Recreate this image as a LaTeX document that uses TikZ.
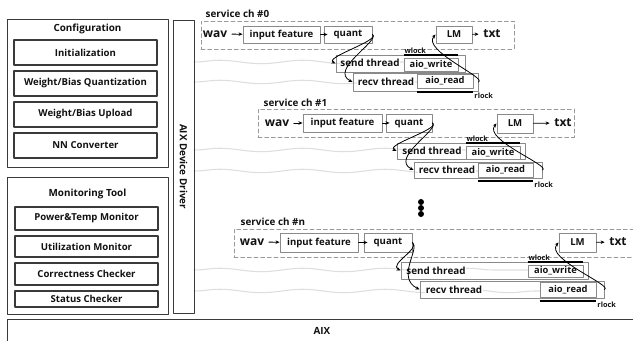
\documentclass[tikz,border=0pt]{standalone}
\usepackage{fontspec}
\setmainfont{Open Sans}
\usetikzlibrary{arrows.meta,positioning,decorations.pathmorphing}
\definecolor{frame}{HTML}{3A3A3A}
\definecolor{boxline}{HTML}{8A8A8A}
\definecolor{chline}{HTML}{9A9A9A}
\definecolor{wavegray}{HTML}{DEDEDE}
\definecolor{ink}{HTML}{111111}
\tikzset{
    every picture/.style={line cap=round,line join=round},
    sz/.style 2 args={minimum width=#1*0.75pt,minimum height=#2*0.75pt},
    groupbox/.style={draw=frame,line width=0.7pt,inner sep=0pt},
    cfgbox/.style={draw=frame,line width=0.9pt,inner sep=0pt,text=ink,
      font=\bfseries\fontsize{7.2}{9}\selectfont},
    stagebox/.style={draw=boxline,line width=0.7pt,inner sep=0pt,text=ink,
      font=\bfseries\fontsize{7.2}{9}\selectfont},
    threadbox/.style={draw=boxline,line width=0.7pt,inner sep=0pt},
    aiobox/.style={draw=boxline,line width=0.7pt,inner sep=0pt,text=ink,
      font=\bfseries\fontsize{7}{9}\selectfont},
    chbox/.style={draw=chline,line width=0.5pt,densely dashed,inner sep=0pt},
    title/.style={text=ink,font=\bfseries\fontsize{7.4}{9}\selectfont},
    iolbl/.style={text=ink,font=\bfseries\fontsize{9}{11}\selectfont},
    thrlbl/.style={fill=white,inner sep=0.5pt,text=ink,
      font=\bfseries\fontsize{7.4}{9}\selectfont},
    locklbl/.style={inner sep=0pt,text=ink,font=\bfseries\fontsize{5.5}{6}\selectfont},
    lockbar/.style={draw=black,line width=1.5pt,line cap=butt},
    flowarrow/.style={-{Stealth[length=3pt,width=2.6pt]},draw=black,line width=0.6pt},
    thrwave/.style={draw=wavegray,line width=0.8pt,decorate,
      decoration={snake,amplitude=1.3pt,segment length=62pt}},
    dot/.style={circle,fill=black,inner sep=0pt,minimum size=4.5pt}
}
\begin{document}
\begin{tikzpicture}[x=0.75pt,y=-0.75pt]
  \useasboundingbox (0,0) rectangle (633,341);

  % thread waves
  \draw[thrwave] (194,62) -- (404,62);
  \draw[thrwave] (194,82) -- (417,82);
  \draw[thrwave] (194,150) -- (466,150);
  \draw[thrwave] (194,171) -- (478,171);
  \draw[thrwave] (194,270) -- (528,270);
  \draw[thrwave] (194,291) -- (540,291);

  % configuration
  \node[groupbox,sz={161}{148}] (cfg) at (87.5,93) {};
  \node[title] (cfgt) at (87.5,29) {Configuration};
  \node[cfgbox,sz={143}{25}] (init) at (85.5,52.5) {Initialization};
  \node[cfgbox,sz={143}{25}] (wbq) at (85.5,83.5) {Weight/Bias Quantization};
  \node[cfgbox,sz={143}{25}] (wbu) at (85.5,114.5) {Weight/Bias Upload};
  \node[cfgbox,sz={143}{25}] (nnc) at (85.5,145.5) {NN Converter};

  % monitoring
  \node[groupbox,sz={161}{137}] (mon) at (87.5,245.5) {};
  \node[title] (mont) at (87.5,194) {Monitoring Tool};
  \node[cfgbox,sz={143}{23}] (pwr) at (86.5,218.5) {Power\&Temp Monitor};
  \node[cfgbox,sz={143}{21}] (utl) at (86.5,246.5) {Utilization Monitor};
  \node[cfgbox,sz={143}{22}] (cor) at (86.5,274) {Correctness Checker};
  \node[cfgbox,sz={143}{16}] (sts) at (86.5,299) {Status Checker};

  % driver and device
  \node[groupbox,sz={21}{293}] (drv) at (183.5,166.5) {};
  \node[title,rotate=-90] (drvt) at (drv.center) {AIX Device Driver};
  \node[groupbox,sz={653}{51}] (aix) at (333.5,344.5) {};
  \node[title] (aixt) at (322,331) {AIX};

  % service ch #0
  \node[title,anchor=west] (ch0t) at (201,14) {service ch \#0};
  \node[chbox,sz={313}{28}] (ch0) at (357.5,35) {};
  \node[iolbl] (wav0) at (215,34) {wav};
  \node[stagebox,sz={77}{17}] (inp0) at (281.5,34.5) {input feature};
  \node[stagebox,sz={48}{17}] (qnt0) at (348,34.5) {quant};
  \node[stagebox,sz={36}{17}] (lm0) at (454,34.5) {LM};
  \node[iolbl] (txt0) at (492,34) {txt};
  \node[threadbox,sz={129}{17}] (snd0) at (400.5,63.5) {};
  \node[thrlbl] (snd0t) at (370,63) {send thread};
  \node[aiobox,sz={54}{13}] (aiow0) at (431,64.5) {aio\_write};
  \node[threadbox,sz={125}{18}] (rcv0) at (415.5,82) {};
  \node[thrlbl] (rcv0t) at (386,82) {recv thread};
  \node[aiobox,sz={56}{14}] (aior0) at (445,81) {aio\_read};
  \draw[flowarrow] (wav0) -- (inp0);
  \draw[flowarrow] (inp0.east) -- ([xshift=3pt]qnt0.west);
  \draw[flowarrow] (lm0) -- (txt0);
  \draw[flowarrow] (qnt0.east) .. controls +(8,6) and +(-12,-6) .. (snd0.west);
  \draw[flowarrow] (qnt0.east) .. controls +(8,6) and +(-24,-12) .. (rcv0.west);
  \draw[flowarrow] (rcv0.east) .. controls +(9,-4) and +(-14,16) .. (lm0.west);
  \draw[lockbar] ([yshift=2pt]aiow0.north west) -- ([yshift=2pt]aiow0.north east)
    node[locklbl,anchor=south west,pos=0] {wlock};
  \draw[lockbar] ([yshift=-2.5pt]aior0.south west) -- ([yshift=-2.5pt]aior0.south east)
    node[locklbl,anchor=north west,pos=1] {rlock};

  % service ch #1
  \node[title,anchor=west] (ch1t) at (259,103) {service ch \#1};
  \node[chbox,sz={316}{28}] (ch1) at (416,123) {};
  \node[iolbl] (wav1) at (277,123) {wav};
  \node[stagebox,sz={79}{18}] (inp1) at (342.5,123) {input feature};
  \node[stagebox,sz={46}{18}] (qnt1) at (409,123) {quant};
  \node[stagebox,sz={36}{19}] (lm1) at (515,123.5) {LM};
  \node[iolbl] (txt1) at (563,123) {txt};
  \node[threadbox,sz={128}{16}] (snd1) at (461,151) {};
  \node[thrlbl] (snd1t) at (432,151) {send thread};
  \node[aiobox,sz={54}{13}] (aiow1) at (493,152.5) {aio\_write};
  \node[threadbox,sz={128}{16}] (rcv1) at (478,170) {};
  \node[thrlbl] (rcv1t) at (447,170) {recv thread};
  \node[aiobox,sz={55}{14}] (aior1) at (505.5,170) {aio\_read};
  \draw[flowarrow] (wav1) -- (inp1);
  \draw[flowarrow] (inp1.east) -- ([xshift=3pt]qnt1.west);
  \draw[flowarrow] (lm1) -- (txt1);
  \draw[flowarrow] (qnt1.east) .. controls +(8,6) and +(-12,-6) .. (snd1.west);
  \draw[flowarrow] (qnt1.east) .. controls +(8,6) and +(-24,-12) .. (rcv1.west);
  \draw[flowarrow] (rcv1.east) .. controls +(9,-4) and +(-14,16) .. (lm1.west);
  \draw[lockbar] ([yshift=2pt]aiow1.north west) -- ([yshift=2pt]aiow1.north east)
    node[locklbl,anchor=south west,pos=0] {wlock};
  \draw[lockbar] ([yshift=-2.5pt]aior1.south west) -- ([yshift=-2.5pt]aior1.south east)
    node[locklbl,anchor=north west,pos=1] {rlock};

  % more channels
  \node[dot] (d1) at (421,202) {};
  \node[dot] (d2) at (421,208) {};
  \node[dot] (d3) at (421,214) {};

  % service ch #n
  \node[title,anchor=west] (chnt) at (236,222) {service ch \#n};
  \node[chbox,sz={426}{28}] (chn) at (447,243) {};
  \node[iolbl] (wavn) at (252,242) {wav};
  \node[stagebox,sz={78}{19}] (inpn) at (319,242.5) {input feature};
  \node[stagebox,sz={48}{19}] (qntn) at (388,242.5) {quant};
  \node[stagebox,sz={37}{19}] (lmn) at (577.5,242.5) {LM};
  \node[iolbl] (txtn) at (618,242) {txt};
  \node[threadbox,sz={187}{17}] (sndn) at (494.5,270.5) {};
  \node[thrlbl] (sndnt) at (436,271) {send thread};
  \node[aiobox,sz={55}{12}] (aiown) at (555.5,271) {aio\_write};
  \node[threadbox,sz={184}{17}] (rcvn) at (512,289.5) {};
  \node[thrlbl] (rcvnt) at (454,290) {recv thread};
  \node[aiobox,sz={56}{15}] (aiorn) at (568,289.5) {aio\_read};
  \draw[flowarrow] (wavn) -- (inpn);
  \draw[flowarrow] (inpn.east) -- ([xshift=3pt]qntn.west);
  \draw[flowarrow] (lmn) -- (txtn);
  \draw[flowarrow] (qntn.east) .. controls +(8,6) and +(-12,-6) .. (sndn.west);
  \draw[flowarrow] (qntn.east) .. controls +(8,6) and +(-24,-12) .. (rcvn.west);
  \draw[flowarrow] (rcvn.east) .. controls +(9,-4) and +(-14,16) .. (lmn.west);
  \draw[lockbar] ([yshift=2pt]aiown.north west) -- ([yshift=2pt]aiown.north east)
    node[locklbl,anchor=south west,pos=0] {wlock};
  \draw[lockbar] ([yshift=-2.5pt]aiorn.south west) -- ([yshift=-2.5pt]aiorn.south east)
    node[locklbl,anchor=north west,pos=1] {rlock};
\end{tikzpicture}
\end{document}
